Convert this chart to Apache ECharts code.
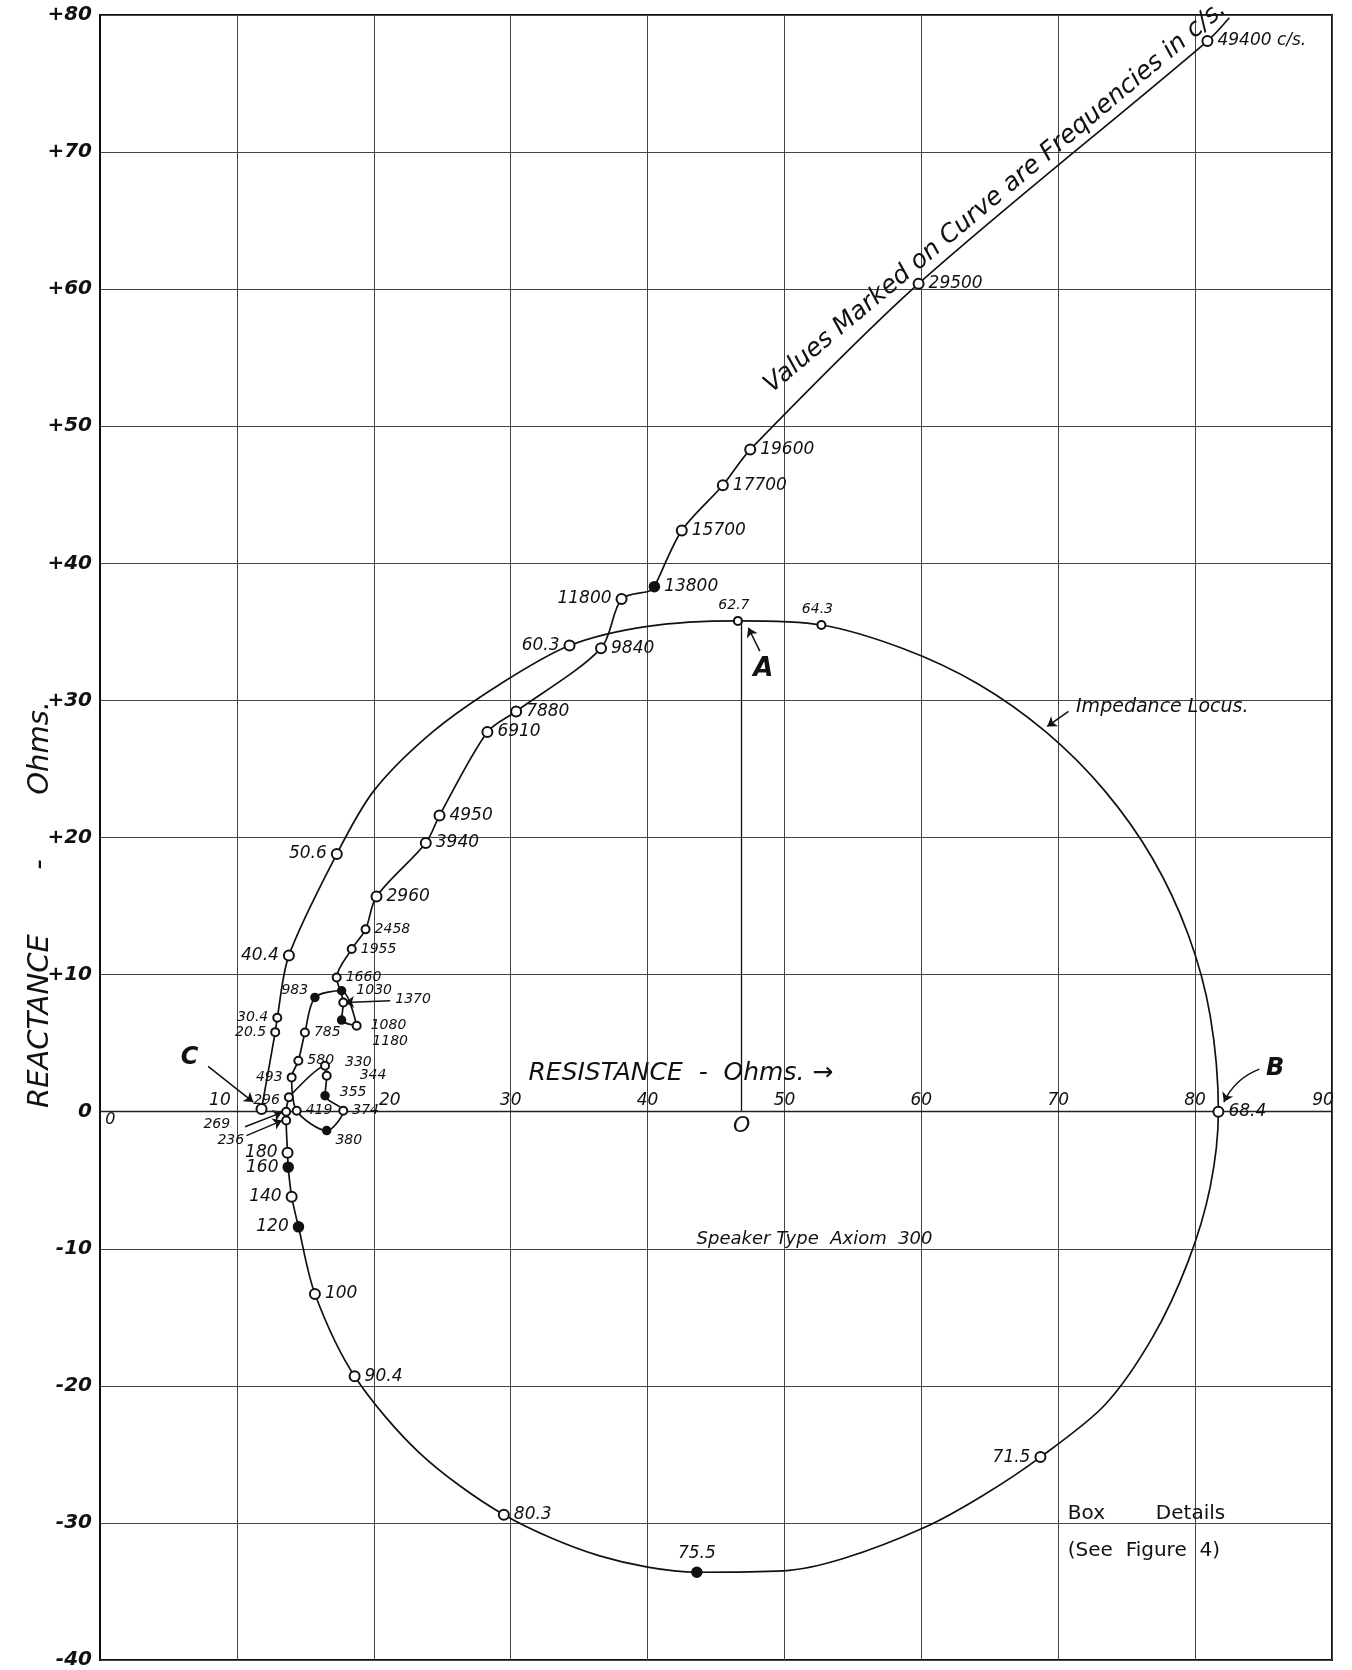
<!DOCTYPE html>
<html>
<head>
<meta charset="utf-8">
<script src="https://cdn.jsdelivr.net/npm/echarts@6/dist/echarts.min.js"></script>
<style>html,body{margin:0;padding:0;background:#fff}#c{width:1352px;height:1670px}</style>
</head>
<body>
<div id="c"></div>
<script>
// ---------------- data ----------------
// frequency marked at each traced point of the impedance locus (c/s); '' = unmarked point on the drawn curve
const freqLabels = [
  '10','20.5','30.4','40.4','50.6','','','','60.3','','62.7','64.3','','','','','','','','68.4',
  '','','','','71.5','','','','','75.5','','80.3','','90.4',
  '100','120','140','160','180','236','269','296',
  '330','344','355','374','380','419','493','580','785','983','1030','1080','1180','1370','1660','1955','2458','2960',
  '3940','4950','6910','7880','9840','11800','','13800','15700','17700','19600','29500','49400',''
];
// resistance (ohms)
const resistance = [
  11.8,12.8,12.95,13.8,17.3,20.0,24.3,29.25,34.3,40.0,46.6,52.7,58.6,64.15,69.1,73.4,76.9,79.5,81.1,81.7,
  81.1,79.5,76.9,73.4,68.7,64.5,60.3,54.3,49.9,43.6,36.5,29.5,23.35,18.6,
  15.7,14.5,14.0,13.75,13.7,13.6,13.6,13.8,
  16.44,16.56,16.44,17.77,16.56,14.37,14.0,14.49,14.97,15.7,17.65,18.75,17.65,17.77,17.29,18.39,19.4,20.2,
  23.8,24.8,28.3,30.4,36.6,38.1,40.2,40.5,42.5,45.5,47.5,59.8,80.9,82.5
];
// reactance (ohms)
const reactance = [
  0.2,5.8,6.85,11.4,18.8,23.4,27.7,31.2,34.0,35.4,35.8,35.5,33.8,31.2,27.7,23.4,18.45,12.9,7.0,0.0,
  -5.5,-10.9,-16.45,-21.4,-25.2,-28.0,-30.3,-32.6,-33.5,-33.6,-32.4,-29.4,-24.9,-19.3,
  -13.3,-8.4,-6.2,-4.05,-3.0,-0.65,0.0,1.05,
  3.35,2.62,1.17,0.07,-1.38,0.07,2.5,3.72,5.78,8.33,8.82,6.27,6.68,7.97,9.79,11.86,13.3,15.7,
  19.6,21.6,27.7,29.2,33.8,37.4,38.0,38.3,42.4,45.7,48.3,60.4,78.1,79.8
];
// index of the 296 c/s point: the locus circle ends there and the rising high-frequency branch starts
const branchIndex = freqLabels.indexOf('296');
// axis ticks
const xTicks = [0,10,20,30,40,50,60,70,80,90];
const yTicks = [-40,-30,-20,-10,0,10,20,30,40,50,60,70,80];
// centre O and point A (radius drawn on the figure)
const radiusLineR = [46.85, 46.85];
const radiusLineX = [0, 35.8];

// ---------------- presentation ----------------
const FONT = 'DejaVu Sans';
const INK = '#111';
const labelPlace = {
  '20.5':'left','30.4':'left','40.4':'left','50.6':'left','60.3':'left','71.5':'left','120':'left','140':'left',
  '160':'left','180':'left','236':'left','269':'left','296':'left','493':'left','983':'left','11800':'left',
  '62.7':'top','64.3':'top','75.5':'top'
};
// extra label nudges in pixels (dx, dy)
const labelShift = {
  '236':[-33,20],'269':[-47,13],'296':[0,3],'330':[11,-3],'344':[24,0],'355':[6,-3],'380':[0,10],
  '1180':[22,21],'1370':[43,-3],'983':[2,-7],'1030':[6,0],'1080':[5,0],'62.7':[-4,0],'64.3':[-4,0]
};
const tickShift = {10:-17, 20:16, 90:-9};
const smallLabels = new Set(['62.7','64.3','20.5','30.4','296','269','236','330','344','355','374','380','419','493',
  '580','785','983','1030','1080','1180','1370','1660','1955','2458']);
const filledMarks = new Set(['13800','983','1030','75.5','120','160','380','1180','355']);

function item(i, allowMark) {
  const f = freqLabels[i];
  const marked = allowMark && f !== '';
  return {
    value: [resistance[i], reactance[i]],
    name: f,
    symbol: marked ? (filledMarks.has(f) ? 'circle' : 'emptyCircle') : 'none',
    symbolSize: marked ? (smallLabels.has(f) ? 8 : 10) : 0,
    label: {
      show: marked && f !== '10',
      position: labelPlace[f] || 'right',
      fontSize: smallLabels.has(f) ? 14 : 17,
      distance: 4
    }
  };
}
const circleData = [];
for (let i = 0; i <= branchIndex; i++) circleData.push(item(i, true));
const branchData = [];
for (let i = branchIndex; i < resistance.length; i++) branchData.push(item(i, i !== branchIndex));

// text notes placed in data coordinates
const notes = [
  {t:'Values Marked on Curve are Frequencies in c/s.', r:65.4, x:66.7, size:25, rot:40, anchor:'center', italic:true},
  {t:'Impedance Locus.', r:71.3, x:29.5, size:19, anchor:'left', italic:true},
  {t:'RESISTANCE  -  Ohms. \u2192', r:31.3, x:2.8, size:25, anchor:'left', italic:true},
  {t:'Speaker Type  Axiom  300', r:52.2, x:-9.3, size:18, anchor:'center', italic:true},
  {t:'Box        Details', r:70.7, x:-29.3, size:20, anchor:'left', italic:false},
  {t:'(See  Figure  4)', r:70.7, x:-32.0, size:20, anchor:'left', italic:false},
  {t:'A', r:48.45, x:32.3, size:26, anchor:'center', italic:true, bold:true},
  {t:'B', r:85.85, x:3.1, size:24, anchor:'center', italic:true, bold:true},
  {t:'C', r:6.55, x:3.95, size:24, anchor:'center', italic:true, bold:true},
  {t:'O', r:46.87, x:-1.1, size:22, anchor:'center', italic:true},
  {t:'0', r:0.75, x:-0.6, size:16, anchor:'center', italic:true}
];
// pointer arrows [fromR, fromX, toR, toX, curveness]
const arrows = [
  [48.2,33.6,47.36,35.3,0],
  [84.7,3.1,82.1,0.7,-0.2],
  [7.9,3.3,11.2,0.7,0],
  [10.6,-1.1,13.3,-0.05,0],
  [10.7,-1.75,13.3,-0.65,0],
  [21.2,8.1,17.9,7.97,0],
  [70.75,29.2,69.2,28.1,0]
];

const pointLabel = {show:true, color:INK, fontFamily:FONT, fontStyle:'italic',
  formatter: p => p.name === '49400' ? '49400 c/s.' : p.name};
const shiftLayout = data => p => {
  const s = labelShift[data[p.dataIndex].name];
  return s ? {dx:s[0], dy:s[1]} : {};
};

const chart = echarts.init(document.getElementById('c'), null, {renderer:'canvas'});
const option = {
  animation: false,
  backgroundColor: '#fff',
  textStyle: {fontFamily: FONT, color: INK},
  grid: {left:100, right:20, top:15, bottom:9, show:true, borderColor:INK, borderWidth:2, backgroundColor:'transparent'},
  xAxis: {
    type:'value', min:xTicks[0], max:xTicks[xTicks.length-1], interval:10,
    axisLine: {show:false},
    axisTick: {show:false},
    axisLabel: {show:false},
    splitLine: {show:true, lineStyle:{color:'#444', width:1}}
  },
  yAxis: {
    type:'value', min:yTicks[0], max:yTicks[yTicks.length-1], interval:10,
    name:'REACTANCE       -       Ohms.', nameLocation:'middle', nameRotate:90, nameGap:45,
    nameMoveOverlap:false,
    nameTextStyle:{fontSize:29, fontStyle:'italic', color:INK, fontFamily:FONT, padding:[0,134,0,0]},
    axisLine:{show:true, onZero:false, lineStyle:{color:INK, width:2}},
    axisTick:{show:false},
    splitLine:{show:true, lineStyle:{color:'#444', width:1}},
    axisLabel:{margin:8, fontSize:20, fontWeight:'bold', fontStyle:'italic', color:INK, fontFamily:FONT,
      formatter: v => v > 0 ? '+' + v : String(v)}
  },
  series: [
    {
      // resistance axis line and its tick numbers, drawn along reactance = 0
      type:'scatter', z:2, silent:true, symbolSize:0,
      itemStyle:{opacity:1},
      markLine:{silent:true, symbol:['none','none'], label:{show:false},
        lineStyle:{color:'#222', width:1.3, type:'solid'}, data:[{yAxis:0}]},
      label:{show:true, position:'top', distance:3, fontSize:17, fontStyle:'italic', color:INK, fontFamily:FONT,
        formatter: p => p.value[0] === 0 ? '' : String(p.value[0])},
      labelLayout: p => ({dx: tickShift[xTicks[p.dataIndex]] || 0}),
      data: xTicks.map(t => [t, 0])
    },
    {
      type:'lines', coordinateSystem:'cartesian2d', z:3, silent:true,
      symbol:['none','none'],
      lineStyle:{color:INK, width:1.3, opacity:1},
      data:[{coords:[[radiusLineR[0], radiusLineX[0]],[radiusLineR[1], radiusLineX[1]]]}]
    },
    {
      type:'lines', coordinateSystem:'cartesian2d', z:4, silent:true,
      symbol:['none','arrow'], symbolSize:9,
      lineStyle:{color:INK, width:1.5, opacity:1},
      data: arrows.map(a => ({coords:[[a[0],a[1]],[a[2],a[3]]], lineStyle:{curveness:a[4]}}))
    },
    {
      type:'line', name:'Impedance Locus', z:5,
      smooth:0.3, showAllSymbol:true,
      lineStyle:{color:INK, width:1.7},
      itemStyle:{color:INK, borderColor:INK, borderWidth:1.5},
      label:pointLabel,
      labelLayout: shiftLayout(circleData),
      data: circleData
    },
    {
      type:'line', name:'High-frequency branch', z:5,
      smooth:0.3, showAllSymbol:true,
      lineStyle:{color:INK, width:1.7},
      itemStyle:{color:INK, borderColor:INK, borderWidth:1.5},
      label:pointLabel,
      labelLayout: shiftLayout(branchData),
      data: branchData
    },
    {
      type:'scatter', z:6, silent:true, symbolSize:0,
      itemStyle:{opacity:1},
      data: notes.map(n => ({
        value:[n.r, n.x],
        label:{
          show:true, formatter:n.t, fontSize:n.size, rotate:n.rot || 0,
          fontStyle:n.italic ? 'italic' : 'normal', fontWeight:n.bold ? 'bold' : 'normal',
          position: n.anchor === 'left' ? 'right' : 'inside', distance:0,
          color:INK, fontFamily:FONT
        }
      }))
    }
  ]
};
chart.setOption(option);
</script>
</body>
</html>
